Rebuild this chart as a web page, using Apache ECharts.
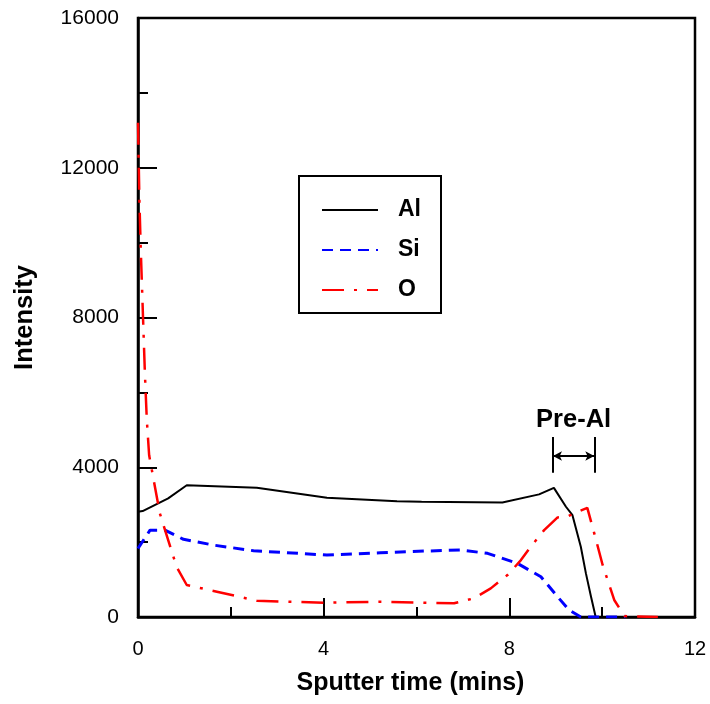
<!DOCTYPE html>
<html><head><meta charset="utf-8">
<script src="https://cdn.jsdelivr.net/npm/echarts@6/dist/echarts.min.js"></script>
<style>html,body{margin:0;padding:0;background:#fff}#c{width:710px;height:704px}</style>
</head><body><div id="c"></div>
<script>
// ---- data ----
const timeAl = [0, 0.1, 0.65, 1.05, 2.56, 4.07, 5.58, 6.11, 7.85, 8.64, 8.96, 9.22, 9.36, 9.54, 9.65, 9.76, 9.86, 10.0];
const al     = [2810, 2830, 3170, 3520, 3450, 3185, 3095, 3080, 3060, 3275, 3450, 2945, 2720, 1875, 1165, 540, 0, 0];
const timeSi = [0, 0.26, 0.58, 0.98, 1.63, 2.49, 4.07, 5.22, 6.16, 6.95, 7.53, 8.17, 8.68, 9.04, 9.29, 9.54, 10.5];
const si     = [1830, 2320, 2320, 2075, 1920, 1770, 1655, 1715, 1760, 1790, 1700, 1435, 1075, 540, 185, 0, 0];
const timeO  = [0, 0.03, 0.06, 0.11, 0.15, 0.19, 0.24, 0.47, 0.83, 1.05, 1.70, 2.56, 4.0, 5.22, 6.16, 6.81, 7.24, 7.60, 7.96, 8.25, 8.46, 8.75, 9.04, 9.25, 9.47, 9.68, 9.83, 10.01, 10.26, 10.48, 11.2];
const oxy    = [13200, 11130, 9800, 7930, 6460, 5260, 4320, 2770, 1345, 855, 675, 435, 380, 410, 380, 365, 500, 765, 1120, 1520, 1875, 2320, 2660, 2680, 2810, 2915, 2235, 1390, 455, 25, 0];
const xTicks = [0, 4, 8, 12];
const yTicks = [0, 4000, 8000, 12000, 16000];
const preAl = [8.94, 9.83];        // bracket x range
const preAlY = [3850, 4810, 4300, 5250]; // bracket bottom, top, arrow, label
const preAlLabel = 'Pre-Al';

const zip = (a, b) => a.map((v, i) => [v, b[i]]);
const FONT = '"Liberation Sans", Arial, sans-serif';

const chart = echarts.init(document.getElementById('c'));
chart.setOption({
  animation: false,
  textStyle: { fontFamily: FONT, color: '#000' },
  grid: { left: 138, top: 18, right: 15, bottom: 87, show: true, borderColor: '#000', borderWidth: 2.5, backgroundColor: 'transparent' },
  legend: {
    data: ['Al', 'Si', 'O'], orient: 'vertical', left: 299, top: 176,
    padding: [22, 20, 11, 22], itemGap: 16, itemWidth: 56, itemHeight: 14,
    borderColor: '#000', borderWidth: 2, backgroundColor: '#fff',
    itemStyle: { opacity: 0 },
    textStyle: { fontFamily: FONT, fontSize: 23, fontWeight: 'bold', color: '#000', lineHeight: 24, padding: [0, 0, 0, 15] }
  },
  xAxis: {
    type: 'value', min: xTicks[0], max: xTicks[xTicks.length - 1], interval: 4,
    name: 'Sputter time (mins)', nameLocation: 'middle', nameGap: 54,
    nameTextStyle: { fontFamily: FONT, fontSize: 25, fontWeight: 'bold', color: '#000', padding: [0, 12, 0, 0] },
    axisLine: { lineStyle: { color: '#000', width: 2.5 } },
    axisTick: { inside: true, length: 19, lineStyle: { color: '#000', width: 2 } },
    minorTick: { show: true, splitNumber: 2, length: 10, lineStyle: { color: '#000', width: 2 } },
    splitLine: { show: false },
    axisLabel: { fontFamily: FONT, fontSize: 20, color: '#000', margin: 22, formatter: v => String(v) }
  },
  yAxis: {
    type: 'value', min: yTicks[0], max: yTicks[yTicks.length - 1], interval: 4000,
    name: 'Intensity', nameLocation: 'middle', nameGap: 100,
    nameTextStyle: { fontFamily: FONT, fontSize: 25.5, fontWeight: 'bold', color: '#000' },
    axisLine: { lineStyle: { color: '#000', width: 2.5 } },
    axisTick: { inside: true, length: 19, lineStyle: { color: '#000', width: 2 } },
    minorTick: { show: true, splitNumber: 2, length: 10, lineStyle: { color: '#000', width: 2 } },
    splitLine: { show: false },
    axisLabel: { fontFamily: FONT, fontSize: 21, color: '#000', margin: 19, formatter: v => String(v) }
  },
  series: [
    { name: 'Al', type: 'line', data: zip(timeAl, al), symbol: 'none', color: '#000',
      lineStyle: { color: '#000', width: 2 } },
    { name: 'Si', type: 'line', data: zip(timeSi, si), symbol: 'none', color: '#0000ff',
      lineStyle: { color: '#0000ff', width: 3, type: [11, 7] } },
    { name: 'O', type: 'line', data: zip(timeO, oxy), symbol: 'none', color: '#ff0000',
      lineStyle: { color: '#ff0000', width: 2.5, type: [22, 10, 3, 10] } },
    { name: 'annot', type: 'line', data: [], symbol: 'none',
      markLine: {
        silent: true, symbol: ['none', 'none'], label: { show: false },
        lineStyle: { color: '#000', width: 2, type: 'solid' },
        data: [
          [{ coord: [preAl[0], preAlY[0]] }, { coord: [preAl[0], preAlY[1]] }],
          [{ coord: [preAl[1], preAlY[0]] }, { coord: [preAl[1], preAlY[1]] }],
          [{ coord: [preAl[0], preAlY[2]], symbol: 'arrow' }, { coord: [preAl[1], preAlY[2]], symbol: 'arrow' }]
        ],
        symbolSize: [7, 9]
      },
      markPoint: {
        silent: true, symbol: 'circle', symbolSize: 0,
        itemStyle: { color: '#000' },
        label: { show: true, position: 'inside', formatter: preAlLabel, fontFamily: FONT, fontSize: 25.5, fontWeight: 'bold', color: '#000' },
        data: [{ coord: [(preAl[0] + preAl[1]) / 2, preAlY[3]] }]
      }
    }
  ]
});
</script></body></html>
